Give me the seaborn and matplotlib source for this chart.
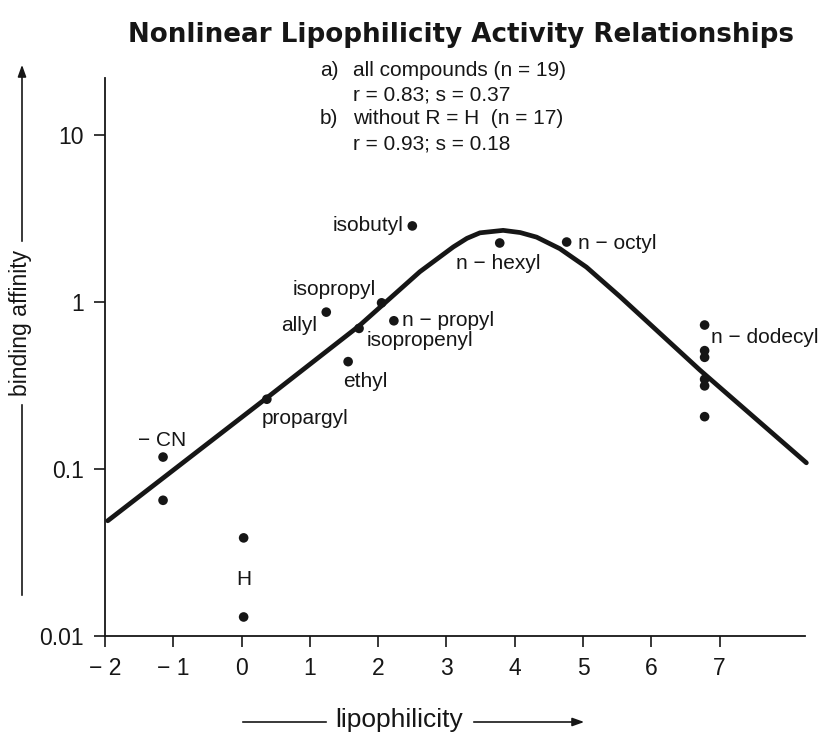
import numpy as np
import pandas as pd
import matplotlib
matplotlib.use("Agg")
import matplotlib.pyplot as plt
import seaborn as sns

# ---------------- data ----------------
compounds = ["− CN", "", "H", "", "propargyl", "allyl", "isopropyl", "isopropenyl",
             "ethyl", "n − propyl", "isobutyl", "n − hexyl", "n − octyl",
             "n − dodecyl", "", "", "", "", ""]
lipophilicity = [-1.15, -1.15, 0.03, 0.03, 0.37, 1.24, 2.05, 1.72,
                 1.56, 2.23, 2.50, 3.78, 4.76,
                 6.78, 6.78, 6.78, 6.78, 6.78, 6.78]
binding_affinity = [0.118, 0.065, 0.0387, 0.0130, 0.262, 0.871, 0.99, 0.696,
                    0.440, 0.773, 2.86, 2.26, 2.29,
                    0.729, 0.512, 0.467, 0.345, 0.315, 0.206]

curve_lipophilicity = [-1.96, 0.37, 1.72, 2.61, 3.10, 3.30, 3.49, 3.83, 4.08,
                       4.32, 4.66, 5.05, 5.54, 6.71, 8.27]
curve_affinity = [0.049, 0.267, 0.72, 1.52, 2.14, 2.41, 2.60, 2.69, 2.61,
                  2.45, 2.09, 1.62, 1.08, 0.392, 0.109]

x_ticks = [-2, -1, 0, 1, 2, 3, 4, 5, 6, 7]
x_tick_labels = ["− 2", "− 1", "0", "1", "2", "3", "4", "5", "6", "7"]
y_ticks = [0.01, 0.1, 1, 10]
y_tick_labels = ["0.01", "0.1", "1", "10"]

title = "Nonlinear Lipophilicity Activity Relationships"
x_label = "lipophilicity"
y_label = "binding affinity"
stats_tags = ["a)", "", "b)", ""]
stats_lines = ["all compounds (n = 19)", "r = 0.83; s = 0.37",
               "without R = H  (n = 17)", "r = 0.93; s = 0.18"]

# ---------------- layout (pixels) ----------------
W, H = 823, 734
label_layout = {  # offset pixels from the point, horizontal alignment
    "− CN": (-1, 17, "center"),
    "H": (0, -42, "center"),
    "propargyl": (-5, -19, "left"),
    "allyl": (-9, -13, "right"),
    "isopropyl": (-47, 13, "center"),
    "isopropenyl": (8, -12, "left"),
    "ethyl": (17, -20, "center"),
    "n − propyl": (8, 0, "left"),
    "isobutyl": (-9, 0, "right"),
    "n − hexyl": (-1, -21, "center"),
    "n − octyl": (11, -1, "left"),
    "n − dodecyl": (6, -12, "left"),
}

sns.set_style("ticks")
plt.rcParams['font.family'] = ['Liberation Sans', 'DejaVu Sans']

fig = plt.figure(figsize=(W / 100, H / 100), dpi=100)
fig.patch.set_facecolor("white")
ax = fig.add_axes([105 / W, 1 - 636 / H, 700 / W, 558 / H])

pts = pd.DataFrame({"compound": compounds, "lipophilicity": lipophilicity,
                    "affinity": binding_affinity})
curve = pd.DataFrame({"lipophilicity": curve_lipophilicity,
                      "affinity": curve_affinity})

ink = "#161616"
sns.lineplot(data=curve, x="lipophilicity", y="affinity", ax=ax, color=ink,
             lw=3.4, sort=False, estimator=None, clip_on=False, zorder=2)
sns.scatterplot(data=pts, x="lipophilicity", y="affinity", ax=ax, color=ink,
                s=48, edgecolor="none", zorder=3, clip_on=False)

ax.set_yscale("log")
ax.set_xlim(-2, 8.25)
ax.set_ylim(0.01, 22)
ax.set_xticks(x_ticks)
ax.set_xticklabels(x_tick_labels)
ax.set_yticks(y_ticks)
ax.set_yticklabels(y_tick_labels)
ax.minorticks_off()
ax.set_xlabel("")
ax.set_ylabel("")
for s in ["top", "right"]:
    ax.spines[s].set_visible(False)
for s in ["left", "bottom"]:
    ax.spines[s].set_linewidth(1.3)
    ax.spines[s].set_color(ink)
ax.tick_params(direction="out", length=8, width=1.2, labelsize=16.5, pad=7,
               colors=ink)

for _, r in pts.iterrows():
    name = r["compound"]
    if not name:
        continue
    dx, dy, ha = label_layout[name]
    ax.annotate(name, xy=(r["lipophilicity"], r["affinity"]), xytext=(dx, dy),
                textcoords="offset pixels", ha=ha, va="center", fontsize=15,
                color=ink)

# title
fig.text(461 / W, 1 - 35 / H, title, ha="center", va="center", fontsize=18.8,
         fontweight="bold", family=["DejaVu Sans"], color=ink)

# statistics block
ys = [70, 95, 119, 144]
for tag, line, y in zip(stats_tags, stats_lines, ys):
    if tag:
        fig.text(320 / W, 1 - y / H, tag, ha="left", va="center", fontsize=15, color=ink)
    fig.text(353 / W, 1 - y / H, line, ha="left", va="center", fontsize=15, color=ink)

# axis labels with arrows
fp = "figure pixels"
fig.text(399 / W, 1 - 720 / H, x_label, ha="center", va="center", fontsize=19, color=ink)
ax.annotate("", xy=(329, H - 722), xytext=(240, H - 722), xycoords=fp,
            arrowprops=dict(arrowstyle="-", lw=1.2, color=ink))
ax.annotate("", xy=(587, H - 722), xytext=(471, H - 722), xycoords=fp,
            arrowprops=dict(arrowstyle="-|>,head_length=0.7,head_width=0.25",
                            lw=1.2, color=ink))

fig.text(21 / W, 1 - 323 / H, y_label, ha="center", va="center", rotation=90,
         fontsize=16.5, color=ink)
ax.annotate("", xy=(22, H - 402), xytext=(22, H - 598), xycoords=fp,
            arrowprops=dict(arrowstyle="-", lw=1.2, color=ink))
ax.annotate("", xy=(22, H - 62), xytext=(22, H - 244), xycoords=fp,
            arrowprops=dict(arrowstyle="-|>,head_length=0.7,head_width=0.25",
                            lw=1.2, color=ink))

fig.savefig("out.png", dpi=100, facecolor="white")
